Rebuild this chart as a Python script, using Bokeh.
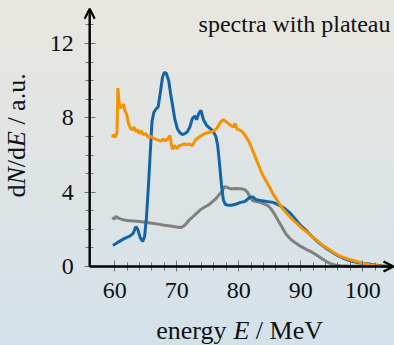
from bokeh.plotting import figure
from bokeh.models import Range1d, FixedTicker, Arrow, OpenHead, Label
from bokeh.embed import file_html
from bokeh.resources import INLINE
import math

# ---------------- data ----------------
blue_E = [59.7, 60.5, 61.5, 62.5, 63.0, 63.4, 63.7, 64.1, 64.5, 64.8, 65.1, 65.4, 65.7, 66.0,
          66.3, 66.6, 67.0, 67.4, 67.7, 68.0, 68.3, 68.7, 69.0, 69.3, 69.7, 70.1, 70.5, 70.9,
          71.3, 71.7, 72.1, 72.5, 72.9, 73.2, 73.5, 73.9, 74.3, 74.8, 75.3, 75.8, 76.3, 76.6,
          76.9, 77.2, 77.5, 77.8, 78.2, 78.8, 79.5, 80.3, 81.0, 81.7, 82.2, 82.8, 83.5, 84.5,
          85.5, 86.5, 87.3, 88.2, 89.0, 90.0, 91.0, 92.0, 93.0, 94.0, 95.0, 96.0, 97.0, 98.0,
          99.0, 100.0, 101.0, 102.0, 103.0, 104.5]
blue_v = [1.13, 1.3, 1.5, 1.65, 1.8, 2.15, 2.0, 1.55, 1.35, 1.6, 2.6, 4.2, 6.0, 7.8,
          8.3, 8.45, 8.6, 9.5, 10.2, 10.45, 10.4, 10.0, 9.3, 8.7, 7.9, 7.4, 7.2, 7.1,
          7.15, 7.25, 7.5, 7.95, 8.1, 7.9, 8.2, 8.4, 7.9, 7.6, 7.45, 7.3, 7.0, 6.5,
          5.5, 4.4, 3.6, 3.35, 3.3, 3.3, 3.35, 3.45, 3.5, 3.7, 3.75, 3.6, 3.55, 3.5,
          3.45, 3.3, 3.15, 2.9, 2.6, 2.2, 1.9, 1.55, 1.25, 1.0, 0.78, 0.58, 0.42, 0.3,
          0.22, 0.17, 0.13, 0.08, 0.04, 0.01]

orange_E = [59.6, 59.8, 60.0, 60.2, 60.35, 60.5, 60.65, 60.8, 61.0, 61.2, 61.4, 61.6, 61.9,
            62.2, 62.5, 62.8, 63.1, 63.4, 63.7, 64.0, 64.3, 64.6, 65.0, 65.4, 65.8, 66.2,
            66.6, 67.0, 67.4, 67.8, 68.2, 68.6, 68.9, 69.1, 69.3, 69.6, 70.0, 70.4, 70.8,
            71.2, 71.6, 72.0, 72.5, 73.0, 73.5, 74.0, 74.5, 75.0, 75.5, 76.0, 76.5, 77.0,
            77.5, 77.9, 78.3, 78.7, 79.1, 79.4, 79.7, 80.1, 80.6, 81.1, 81.6, 82.1, 82.6,
            83.2, 83.8, 84.4, 85.0, 85.6, 86.2, 87.0, 87.8, 88.6, 89.4, 90.2, 91.0, 91.8,
            92.6, 93.5, 94.4, 95.3, 96.2, 97.0, 98.0, 99.0, 100.0, 101.0, 102.0, 103.0, 104.5]
orange_v = [6.95, 7.1, 6.95, 7.05, 7.2, 9.6, 9.0, 8.5, 8.7, 8.55, 8.75, 8.4, 8.2,
            7.7, 7.45, 7.35, 7.5, 7.25, 7.35, 7.15, 7.3, 7.1, 7.15, 6.95, 7.0, 6.9,
            6.85, 6.8, 6.75, 6.85, 6.75, 6.9, 7.05, 6.6, 6.3, 6.5, 6.35, 6.5, 6.55,
            6.6, 6.55, 6.6, 6.5, 6.8, 6.95, 7.05, 7.15, 7.2, 7.25, 7.3, 7.45, 7.75,
            7.9, 7.8, 7.7, 7.6, 7.5, 7.7, 7.4, 7.35, 7.25, 7.0, 6.75, 6.35, 5.95,
            5.45, 4.95, 4.6, 4.25, 3.85, 3.55, 3.15, 2.83, 2.55, 2.3, 2.05, 1.85, 1.6,
            1.4, 1.15, 0.95, 0.75, 0.58, 0.47, 0.36, 0.27, 0.18, 0.1, 0.05, 0.02, 0.01]

gray_E = [59.6, 59.9, 60.2, 60.6, 61.0, 61.5, 62.0, 63.0, 64.0, 65.0, 66.0, 67.0, 68.0,
          69.0, 70.0, 70.6, 71.0, 71.5, 72.0, 72.5, 73.0, 73.8, 74.5, 75.2, 75.8, 76.3,
          76.8, 77.2, 77.7, 78.2, 78.7, 79.5, 80.3, 80.9, 81.4, 81.8, 82.2, 82.8, 83.5,
          84.2, 84.8, 85.3, 85.8, 86.3, 87.0, 87.6, 88.3, 89.0, 90.0, 91.0, 91.8, 92.6,
          93.5, 94.2, 94.8, 95.5, 96.4, 98.0, 100.0]
gray_v = [2.65, 2.55, 2.7, 2.6, 2.55, 2.5, 2.47, 2.45, 2.42, 2.38, 2.33, 2.28, 2.22,
          2.18, 2.13, 2.1, 2.15, 2.3, 2.5, 2.65, 2.8, 3.05, 3.2, 3.33, 3.5, 3.65,
          3.85, 4.0, 4.3, 4.25, 4.18, 4.2, 4.18, 4.15, 4.0, 3.75, 3.55, 3.5, 3.45,
          3.35, 3.25, 3.05, 2.8, 2.5, 2.1, 1.75, 1.49, 1.3, 1.08, 0.9, 0.77, 0.6,
          0.4, 0.25, 0.15, 0.08, 0.04, 0.02, 0.01]

x_major = [60, 70, 80, 90, 100]
x_minor = [60, 62, 64, 66, 68, 70, 72, 74, 76, 78, 80, 82, 84, 86, 88, 90, 92, 94, 96, 98, 100, 102]
y_major = [0, 4, 8, 12]
y_minor = [0, 1, 2, 3, 4, 5, 6, 7, 8, 9, 10, 11, 12, 13]

title_text = "spectra with plateau"

# ---------------- figure (frame = whole canvas, axes placed at fixed locations) ----------------
W, H = 394, 345
AX_X0, AX_X1 = 55.95, 104.95
AX_Y0, AX_Y1 = 0.0, 13.87
VX0, VX1 = 41.565, 105.113
VY0, VY1 = -4.251, 14.314

p = figure(width=W, height=H, output_backend="svg", toolbar_location=None,
           x_range=Range1d(VX0, VX1), y_range=Range1d(VY0, VY1),
           min_border=0, min_border_left=0, min_border_right=0,
           min_border_top=0, min_border_bottom=0)
p.background_fill_color = None
p.border_fill_color = None
p.outline_line_color = None
p.xgrid.grid_line_color = None
p.ygrid.grid_line_color = None

FONT = "Liberation Serif"
tick_col = "#707070"

p.xaxis.ticker = FixedTicker(ticks=x_major, minor_ticks=x_minor)
p.yaxis.ticker = FixedTicker(ticks=y_major, minor_ticks=y_minor)
p.xaxis.fixed_location = AX_Y0
p.yaxis.fixed_location = AX_X0
for ax in (p.xaxis, p.yaxis):
    ax.axis_line_color = None
    ax.major_tick_line_color = tick_col
    ax.minor_tick_line_color = tick_col
    ax.major_tick_line_width = 1
    ax.minor_tick_line_width = 1
    ax.major_tick_in = 6
    ax.major_tick_out = 5
    ax.minor_tick_in = 4
    ax.minor_tick_out = 4
    ax.major_label_text_font = FONT
    ax.major_label_text_font_size = "24px"
    ax.major_label_text_color = "#111111"
    ax.major_label_standoff = 11

# ---------------- curves ----------------
p.line(gray_E, gray_v, line_color="#808080", line_width=3)
p.line(blue_E, blue_v, line_color="#1364a6", line_width=3)
p.line(orange_E, orange_v, line_color="#f59200", line_width=3)

# ---------------- axis lines with arrow heads ----------------
p.add_layout(Arrow(x_start=AX_X0, y_start=AX_Y0, x_end=AX_X1, y_end=AX_Y0,
                   line_color="black", line_width=2.4,
                   end=OpenHead(size=10, line_width=2.2, line_color="black")))
p.add_layout(Arrow(x_start=AX_X0, y_start=AX_Y0, x_end=AX_X0, y_end=AX_Y1,
                   line_color="black", line_width=2.4,
                   end=OpenHead(size=10, line_width=2.2, line_color="black")))

# ---------------- texts ----------------
def lab(text, cx, cy, size, style="normal", align="left", angle=0.0):
    p.add_layout(Label(x=cx, y=H - cy, x_units="screen", y_units="screen",
                       text=text, text_font=FONT, text_font_size=size, text_font_style=style,
                       text_align=align, text_baseline="alphabetic", text_color="#111111",
                       angle=angle))

lab(title_text, 390, 23, "24px", align="right")

# x axis label: energy E / MeV
lab("energy", 155.7, 330, "26px")
lab("E", 232.9, 330, "26px", style="italic")
lab("/ MeV", 255.3, 330, "26px")

# y axis label: dN/dE / a.u.  (rotated)
r = math.pi / 2
YLX = 16
lab("d", YLX, 197, "26px", angle=r)
lab("N", YLX, 184, "26px", style="italic", angle=r)
lab("/d", YLX, 166.7, "26px", angle=r)
lab("E", YLX, 146.5, "26px", style="italic", angle=r)
lab("/ a.u.", YLX, 124.1, "26px", angle=r)

html = file_html(p, INLINE, title="spectra")
style = ("<style>html{background:linear-gradient(to bottom,#e9e6df,#d3e1ea);min-height:100%;}"
         "body{margin:0;overflow:hidden;}</style>")
html = html.replace("</head>", style + "</head>", 1)
open("out.html", "w").write(html)
